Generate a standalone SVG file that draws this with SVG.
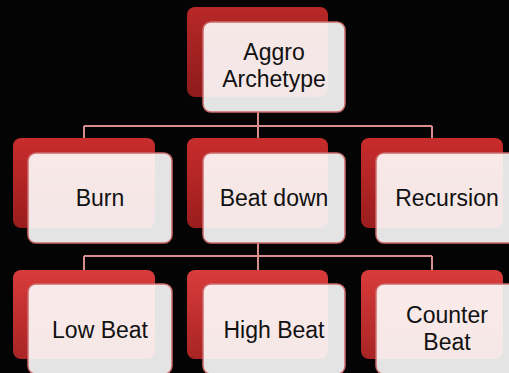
<svg xmlns="http://www.w3.org/2000/svg" width="509" height="373" viewBox="0 0 509 373">
  <defs>
    <linearGradient id="redTop" x1="0" y1="0" x2="0" y2="1">
      <stop offset="0" stop-color="#b82828"/>
      <stop offset="1" stop-color="#8e1b1b"/>
    </linearGradient>
    <linearGradient id="redMid" x1="0" y1="0" x2="0" y2="1">
      <stop offset="0" stop-color="#c82c2c"/>
      <stop offset="1" stop-color="#9a1d1d"/>
    </linearGradient>
    <linearGradient id="redLow" x1="0" y1="0" x2="0" y2="1">
      <stop offset="0" stop-color="#da3b3b"/>
      <stop offset="1" stop-color="#a82424"/>
    </linearGradient>
    <style>
      .back { stroke: none; }
      .front { fill: #ffffff; fill-opacity: 0.895; stroke: #cd6b6b; stroke-width: 1.5; }
      .label { font-family: "Liberation Sans", Arial, sans-serif; font-size: 23px; fill: #111111; text-anchor: middle; }
      .link { fill: none; stroke: #d98e8e; stroke-width: 2; }
    </style>
  </defs>

  <rect width="509" height="373" fill="#040404"/>

  <!-- tree connectors, drawn beneath the node cards -->
  <g id="connectors">
    <path class="link" d="M258 112 V126 M84 126 H432 M84 126 V138 M258 126 V138 M432 126 V138"/>
    <path class="link" d="M258 243 V256 M84 256 H432 M84 256 V270 M258 256 V270 M432 256 V270"/>
  </g>

  <g id="aggro">
    <rect class="back" x="187" y="7" width="141" height="90" rx="8" fill="url(#redTop)"/>
    <rect class="front" x="203" y="22" width="142" height="90" rx="8"/>
    <text class="label" x="274" y="60">Aggro</text>
    <text class="label" x="274" y="87">Archetype</text>
  </g>

  <g id="burn">
    <rect class="back" x="13" y="138" width="142" height="90" rx="8" fill="url(#redMid)"/>
    <rect class="front" x="28" y="153" width="144" height="90" rx="8"/>
    <text class="label" x="100" y="206">Burn</text>
  </g>

  <g id="beat-down">
    <rect class="back" x="187" y="138" width="141" height="90" rx="8" fill="url(#redMid)"/>
    <rect class="front" x="203" y="153" width="142" height="90" rx="8"/>
    <text class="label" x="274" y="206">Beat down</text>
  </g>

  <g id="recursion">
    <rect class="back" x="361" y="138" width="142" height="90" rx="8" fill="url(#redMid)"/>
    <rect class="front" x="376" y="153" width="142" height="90" rx="8"/>
    <text class="label" x="447" y="206">Recursion</text>
  </g>

  <g id="low-beat">
    <rect class="back" x="13" y="270" width="142" height="89" rx="8" fill="url(#redLow)"/>
    <rect class="front" x="28" y="284" width="144" height="90" rx="8"/>
    <text class="label" x="100" y="338">Low Beat</text>
  </g>

  <g id="high-beat">
    <rect class="back" x="187" y="270" width="141" height="89" rx="8" fill="url(#redLow)"/>
    <rect class="front" x="203" y="284" width="142" height="90" rx="8"/>
    <text class="label" x="274" y="338">High Beat</text>
  </g>

  <g id="counter-beat">
    <rect class="back" x="361" y="270" width="142" height="89" rx="8" fill="url(#redLow)"/>
    <rect class="front" x="376" y="284" width="142" height="90" rx="8"/>
    <text class="label" x="447" y="323">Counter</text>
    <text class="label" x="447" y="350">Beat</text>
  </g>
</svg>
